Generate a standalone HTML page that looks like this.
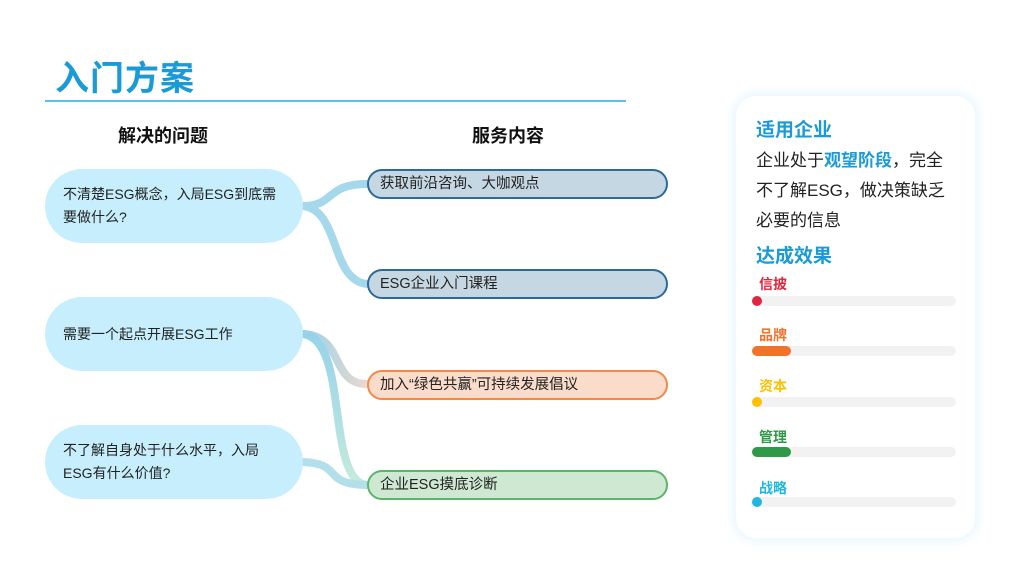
<!DOCTYPE html>
<html><head><meta charset="utf-8"><style>
body{margin:0;width:1024px;height:576px;background:#fff;position:relative;overflow:hidden;font-family:"Liberation Sans","Noto Sans CJK SC",sans-serif;}
.a{position:absolute}
.lb{position:absolute;left:45px;width:258px;height:74px;border-radius:37px;background:#c6eefc;font-size:14px;color:#222;box-sizing:border-box;padding:0 18px;display:flex;align-items:center;line-height:23px}
.rb{position:absolute;left:367px;width:301px;height:30px;border-radius:15px;box-sizing:border-box;border:2px solid;font-size:14.5px;color:#222;padding-left:11px;line-height:26px}
.lab{position:absolute;left:759px;font-size:14px;font-weight:bold}
.bar{position:absolute;left:752px;width:204px;height:10px;border-radius:5px;background:#f2f2f2}
.bar i{position:absolute;left:0;top:0;height:10px;border-radius:5px;display:block}
</style></head><body>
<div class="a" style="left:55px;top:51px;font-size:34px;font-weight:bold;color:#1a9ad6;letter-spacing:1px">入门方案</div>
<div class="a" style="left:45px;top:100px;width:581px;height:2px;background:#5bc0ec"></div>
<div class="a" style="left:118px;top:122px;font-size:18px;font-weight:bold;color:#111">解决的问题</div>
<div class="a" style="left:472px;top:122px;font-size:18px;font-weight:bold;color:#111">服务内容</div>
<svg class="a" style="left:0;top:0" width="1024" height="576">
<defs><linearGradient id="g1" x1="0" y1="0" x2="1" y2="0"><stop offset="0" stop-color="#7cc8e6"/><stop offset="1" stop-color="#e6d0c4"/></linearGradient>
<linearGradient id="g2" x1="0" y1="0" x2="0" y2="1"><stop offset="0" stop-color="#7cc8e6"/><stop offset="1" stop-color="#b8e6d4"/></linearGradient></defs>
<g fill="none" stroke-width="8" stroke-linecap="round" opacity="0.8">
<path d="M303 206 C335 206,325 184,367 184" stroke="#8fcfe6"/>
<path d="M303 206 C340 210,330 280,367 284" stroke="#8fcfe6"/>
<path d="M303 334 C345 336,330 384,367 384" stroke="url(#g1)"/>
<path d="M303 334 C350 340,325 480,367 485" stroke="url(#g2)"/>
<path d="M303 462 C345 464,320 484,367 485" stroke="#9fd8e6"/>
</g></svg>
<div class="lb" style="top:169px">不清楚ESG概念，入局ESG到底需要做什么?</div>
<div class="lb" style="top:297px">需要一个起点开展ESG工作</div>
<div class="lb" style="top:425px">不了解自身处于什么水平，入局ESG有什么价值?</div>
<div class="rb" style="top:169px;background:#c5d7e3;border-color:#2d6a98">获取前沿咨询、大咖观点</div>
<div class="rb" style="top:269px;background:#c5d7e3;border-color:#2d6a98">ESG企业入门课程</div>
<div class="rb" style="top:370px;background:#fbdccb;border-color:#f08a4b">加入“绿色共赢”可持续发展倡议</div>
<div class="rb" style="top:470px;background:#cfe8d2;border-color:#5cb56a">企业ESG摸底诊断</div>
<div class="a" style="left:736px;top:96px;width:239px;height:442px;border-radius:20px;background:#fff;box-shadow:0 0 10px 4px #eaf7fd"></div>
<div class="a" style="left:756px;top:115px;font-size:19px;font-weight:bold;color:#1a9ad6">适用企业</div>
<div class="a" style="left:756px;top:146px;font-size:17px;line-height:30px;color:#222;width:200px">企业处于<b style="color:#1a9ad6">观望阶段</b>，完全不了解ESG，做决策缺乏必要的信息</div>
<div class="a" style="left:756px;top:241px;font-size:19px;font-weight:bold;color:#1a9ad6">达成效果</div>
<div class="lab" style="top:274px;color:#e0263f">信披</div>
<div class="bar" style="top:296px"><i style="width:10px;background:#e0263f"></i></div>
<div class="lab" style="top:325px;color:#f2722a">品牌</div>
<div class="bar" style="top:346px"><i style="width:39px;background:#f2722a"></i></div>
<div class="lab" style="top:376px;color:#ffc000">资本</div>
<div class="bar" style="top:397px"><i style="width:10px;background:#ffc000"></i></div>
<div class="lab" style="top:427px;color:#2e9a48">管理</div>
<div class="bar" style="top:447px"><i style="width:39px;background:#2e9a48"></i></div>
<div class="lab" style="top:478px;color:#1fb6e0">战略</div>
<div class="bar" style="top:497px"><i style="width:10px;background:#1fb6e0"></i></div>
</body></html>
